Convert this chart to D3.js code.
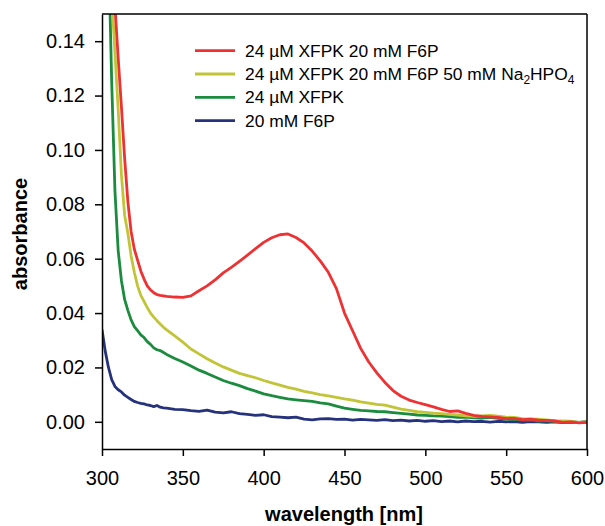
<!DOCTYPE html>
<html>
<head>
<meta charset="utf-8">
<script src="https://cdn.jsdelivr.net/npm/d3@7"></script>
<style>
	body { margin: 0; background: #fff; }
	svg { display: block; font-family: "Liberation Sans", Arial, sans-serif; }
	.axis path, .axis line { stroke: #000; stroke-width: 1.5px; }
	.axis text { font-size: 20px; fill: #000; }
	.label { font-size: 20px; font-weight: bold; }
	.legend text { font-size: 17.4px; }
</style>
</head>
<body>
<div id="chart"></div>
<script>

// wavelength grid (nm)
var wl = [300,302,304,306,308,310,312,314,316,318,320,322,324,326,328,330,332,334,336,338,340,
	345,350,355,360,365,370,375,380,385,390,395,400,405,410,415,420,425,430,435,440,
	445,450,455,460,465,470,475,480,485,490,495,500,505,510,515,520,525,530,535,540,
	545,550,555,560,565,570,575,580,585,590,595,600];

// absorbance values
var xfpkF6P = [0.220,0.203,0.186,0.170,0.153,0.134,0.116,0.097,0.081,0.070,0.0635,0.0595,0.0555,0.0525,0.0500,0.0485,0.0475,0.0468,0.0465,0.0463,0.0461,
	0.0459,0.0458,0.0463,0.0482,0.0500,0.0522,0.0548,0.0568,0.0590,0.0613,0.0637,0.0660,0.0677,0.0688,0.0691,0.0678,0.0658,0.0628,0.0592,0.0550,
	0.0490,0.0400,0.0335,0.0270,0.0220,0.0180,0.0145,0.0115,0.0094,0.0080,0.0071,0.0063,0.0055,0.0046,0.0038,0.0040,0.0031,0.0024,0.0020,0.0018,
	0.0016,0.0012,0.0013,0.0008,0.0010,0.0006,0.0005,0.0003,-0.0002,0.0000,-0.0004,-0.0002];

var xfpkF6PPi = [0.210,0.195,0.178,0.157,0.136,0.115,0.091,0.076,0.0694,0.0610,0.0550,0.0500,0.0465,0.0443,0.0420,0.0400,0.0385,0.0372,0.0360,0.0348,0.0338,
	0.0316,0.0293,0.0268,0.0250,0.0232,0.0216,0.0202,0.0190,0.0178,0.0170,0.0162,0.0152,0.0143,0.0135,0.0127,0.0120,0.0112,0.0106,0.0100,0.0095,
	0.0090,0.0084,0.0080,0.0073,0.0069,0.0064,0.0061,0.0054,0.0047,0.0042,0.0037,0.0035,0.0032,0.0030,0.0027,0.0025,0.0022,0.0020,0.0022,0.0024,
	0.0021,0.0017,0.0016,0.0012,0.0011,0.0010,0.0007,0.0004,0.0003,0.0002,-0.0002,0.0000];

var xfpk = [0.240,0.210,0.175,0.125,0.085,0.063,0.052,0.045,0.041,0.0375,0.0350,0.0335,0.0320,0.0310,0.0295,0.0285,0.0272,0.0265,0.0262,0.0255,0.0248,
	0.0233,0.0220,0.0205,0.0190,0.0178,0.0165,0.0152,0.0142,0.0133,0.0122,0.0113,0.0103,0.0096,0.0090,0.0084,0.0081,0.0078,0.0075,0.0070,0.0066,
	0.0058,0.0050,0.0046,0.0042,0.0040,0.0038,0.0037,0.0034,0.0031,0.0028,0.0025,0.0024,0.0022,0.0021,0.0019,0.0016,0.0017,0.0015,0.0014,0.0016,
	0.0013,0.0010,0.0009,0.0006,0.0007,0.0003,0.0004,0.0001,-0.0001,0.0000,-0.0002,0.0000];

var f6p = [0.034,0.026,0.020,0.0155,0.0130,0.0118,0.0110,0.0098,0.0090,0.0082,0.0075,0.0071,0.0068,0.0066,0.0062,0.0060,0.0056,0.0060,0.0054,0.0051,0.0050,
	0.0046,0.0045,0.0041,0.0038,0.0043,0.0036,0.0033,0.0037,0.0030,0.0027,0.0024,0.0026,0.0019,0.0017,0.0015,0.0017,0.0010,0.0007,0.0011,0.0012,
	0.0009,0.0010,0.0006,0.0009,0.0007,0.0005,0.0008,0.0004,0.0006,0.0003,0.0005,0.0002,0.0004,0.0001,0.0003,0.0000,0.0003,0.0001,0.0002,-0.0001,
	0.0002,0.0000,0.0001,-0.0002,0.0001,0.0000,-0.0002,0.0000,-0.0003,-0.0001,-0.0002,0.0000];

var xTicks = [300,350,400,450,500,550,600];
var yTicks = [0.00,0.02,0.04,0.06,0.08,0.10,0.12,0.14];

// series, drawn back to front
var series = [
	{"name":"20 mM F6P", "values": f6p, "color":"#26337c"},
	{"name":"24 µM XFPK", "values": xfpk, "color":"#1b8b3e"},
	{"name":"24 µM XFPK 20 mM F6P 50 mM Na|2|HPO|4", "values": xfpkF6PPi, "color":"#c1c436"},
	{"name":"24 µM XFPK 20 mM F6P", "values": xfpkF6P, "color":"#ee3234"}
];


var width = 605, height = 526;
var margin = { top: 14, right: 18, bottom: 77, left: 102 };

var svg = d3.select("#chart").append("svg")
	.attr("width", width)
	.attr("height", height);

var xScale = d3.scaleLinear()
	.domain([300,600])
	.range([margin.left, width-margin.right]);

var yScale = d3.scaleLinear()
	.domain([-0.01,0.15])
	.range([height-margin.bottom, margin.top]);

svg.append("clipPath").attr("id","clip")
	.append("rect")
		.attr("x", margin.left)
		.attr("y", margin.top)
		.attr("width", xScale.range()[1]-margin.left)
		.attr("height", yScale.range()[0]-margin.top);

var line = d3.line()
	.x(function(d,i){ return xScale(wl[i]) })
	.y(function(d){ return yScale(d) });

var g = svg.append("g").attr("clip-path","url(#clip)");

g.selectAll("path.curve")
	.data(series).enter()
	.append("path")
		.attr("class","curve")
		.attr("d", function(d){ return line(d.values) })
		.attr("fill","none")
		.attr("stroke", function(d){ return d.color })
		.attr("stroke-width", 2.8)
		.attr("stroke-linejoin","round");

// frame: top + right
svg.append("line")
	.attr("x1", margin.left).attr("x2", xScale.range()[1])
	.attr("y1", margin.top).attr("y2", margin.top)
	.attr("stroke","#000").attr("stroke-width",1.5);
svg.append("line")
	.attr("x1", xScale.range()[1]).attr("x2", xScale.range()[1])
	.attr("y1", margin.top).attr("y2", yScale.range()[0])
	.attr("stroke","#000").attr("stroke-width",1.5);

// axes
var xAxis = d3.axisBottom(xScale).tickValues(xTicks).tickSize(7).tickPadding(15).tickSizeOuter(0);
var yAxis = d3.axisLeft(yScale).tickValues(yTicks).tickSize(7).tickPadding(10).tickSizeOuter(0)
	.tickFormat(d3.format(".2f"));

svg.append("g")
	.attr("class","x axis")
	.attr("transform","translate(0,"+ yScale.range()[0] +")")
	.call(xAxis);

svg.append("g")
	.attr("class","y axis")
	.attr("transform","translate("+ margin.left +",0)")
	.call(yAxis);

// axis labels
svg.append("text")
	.attr("class","label")
	.attr("text-anchor","middle")
	.attr("x", 344)
	.attr("y", 521)
	.text("wavelength [nm]");

svg.append("text")
	.attr("class","label")
	.attr("text-anchor","middle")
	.attr("transform","translate(27,234) rotate(-90)")
	.text("absorbance");

// legend, top entry first
var legend = svg.append("g").attr("class","legend");
var items = series.slice().reverse();

items.forEach(function(s,i){
	var y = 50.7 + i*23.3;
	legend.append("line")
		.attr("x1",195).attr("x2",235)
		.attr("y1",y).attr("y2",y)
		.attr("stroke", s.color)
		.attr("stroke-width",2.8);
	var t = legend.append("text")
		.attr("x",245)
		.attr("y",y+6);
	// parts between | are subscripts
	s.name.split("|").forEach(function(part,j){
		if (j % 2 == 1) {
			t.append("tspan").attr("dy",4).style("font-size","12px").text(part);
		} else {
			t.append("tspan").attr("dy", j > 0 ? -4 : 0).text(part);
		}
	});
});

</script>
</body>
</html>
